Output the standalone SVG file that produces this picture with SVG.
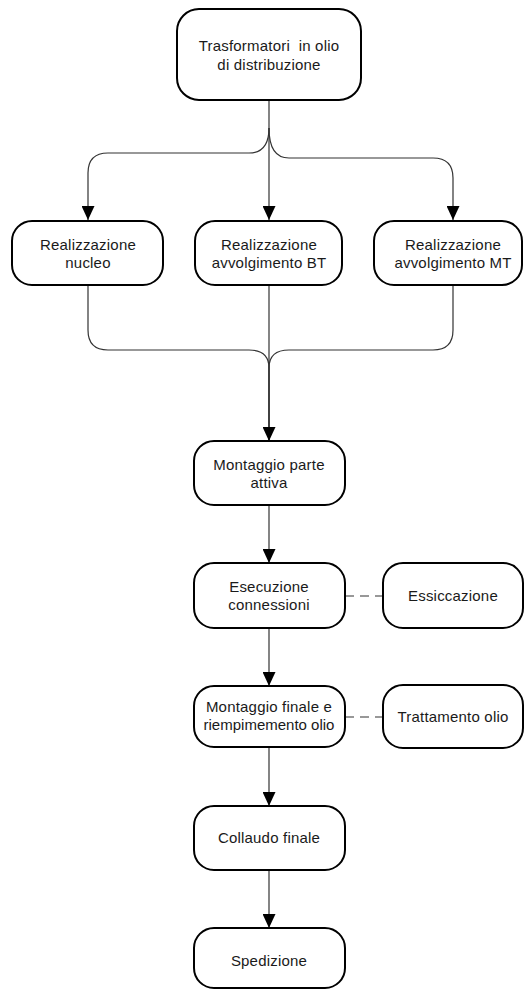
<svg xmlns="http://www.w3.org/2000/svg" width="525" height="990" viewBox="0 0 525 990">
<style>
.box{fill:#fff;stroke:#000;stroke-width:2}
.t{font-family:"Liberation Sans",Arial,sans-serif;font-size:15px;letter-spacing:0.2px;fill:#1a1a1a;text-anchor:middle}
.c{fill:none;stroke:#333;stroke-width:1.2}
.d{fill:none;stroke:#333;stroke-width:1.2;stroke-dasharray:9,6}
</style>
<defs>
<marker id="ah" markerWidth="14" markerHeight="13" refX="14" refY="6.5" orient="auto" markerUnits="userSpaceOnUse" viewBox="0 0 14 13">
<path d="M0,0 L14,6.5 L0,13 Z" fill="#000"/>
</marker>
</defs>
<rect width="525" height="990" fill="#fff"/>
<g id="connectors">
<path class="c" d="M269,100 V128"/>
<path class="c" d="M269,128 Q269,153 249,153 H108 Q88,153 88,173 V220" marker-end="url(#ah)"/>
<path class="c" d="M269,128 V220" marker-end="url(#ah)"/>
<path class="c" d="M269,128 Q269,158 289,158 H433 Q453,158 453,178 V220" marker-end="url(#ah)"/>
<path class="c" d="M88,285 V330 Q88,350 108,350 H249 Q269,350 269,368"/>
<path class="c" d="M453,285 V330 Q453,350 433,350 H289 Q269,350 269,368"/>
<path class="c" d="M269,285 V368"/>
<path class="c" style="stroke-width:1.6;stroke:#111" d="M269,368 V441" marker-end="url(#ah)"/>
<path class="c" d="M269,505 V563" marker-end="url(#ah)"/>
<path class="c" d="M269,628 V686" marker-end="url(#ah)"/>
<path class="c" d="M269,747 V806" marker-end="url(#ah)"/>
<path class="c" d="M269,870 V928" marker-end="url(#ah)"/>
<path class="d" d="M345,596 H383"/>
<path class="d" d="M345,717 H383"/>
</g>
<g id="n_trasformatori">
<rect class="box" x="177" y="9" width="184" height="91" rx="22"/>
<text class="t" x="269" y="51" xml:space="preserve">Trasformatori  in olio</text>
<text class="t" x="269" y="70">di distribuzione</text>
</g>
<g id="n_nucleo">
<rect class="box" x="12" y="221" width="151" height="64" rx="20"/>
<text class="t" x="88" y="250">Realizzazione</text>
<text class="t" x="88" y="268">nucleo</text>
</g>
<g id="n_bt">
<rect class="box" x="195" y="221" width="147" height="64" rx="20"/>
<text class="t" x="269" y="250">Realizzazione</text>
<text class="t" x="269" y="268">avvolgimento BT</text>
</g>
<g id="n_mt">
<rect class="box" x="374" y="221" width="148" height="64" rx="20"/>
<text class="t" x="453" y="250">Realizzazione</text>
<text class="t" x="453" y="268">avvolgimento MT</text>
</g>
<g id="n_montaggio_parte">
<rect class="box" x="194" y="441" width="151" height="64" rx="20"/>
<text class="t" x="269" y="470">Montaggio parte</text>
<text class="t" x="269" y="488">attiva</text>
</g>
<g id="n_esecuzione">
<rect class="box" x="194" y="563" width="151" height="65" rx="20"/>
<text class="t" x="269" y="592">Esecuzione</text>
<text class="t" x="269" y="610">connessioni</text>
</g>
<g id="n_essiccazione">
<rect class="box" x="383" y="563" width="140" height="65" rx="20"/>
<text class="t" x="453" y="601">Essiccazione</text>
</g>
<g id="n_montaggio_finale">
<rect class="box" x="194" y="686" width="151" height="61" rx="20"/>
<text class="t" x="269" y="712">Montaggio finale e</text>
<text class="t" x="269" y="730" style="letter-spacing:0">riempimemento olio</text>
</g>
<g id="n_trattamento">
<rect class="box" x="383" y="685" width="140" height="63" rx="20"/>
<text class="t" x="453" y="722">Trattamento olio</text>
</g>
<g id="n_collaudo">
<rect class="box" x="194" y="806" width="151" height="64" rx="20"/>
<text class="t" x="269" y="843">Collaudo finale</text>
</g>
<g id="n_spedizione">
<rect class="box" x="194" y="928" width="151" height="60" rx="20"/>
<text class="t" x="269" y="966">Spedizione</text>
</g>
</svg>
